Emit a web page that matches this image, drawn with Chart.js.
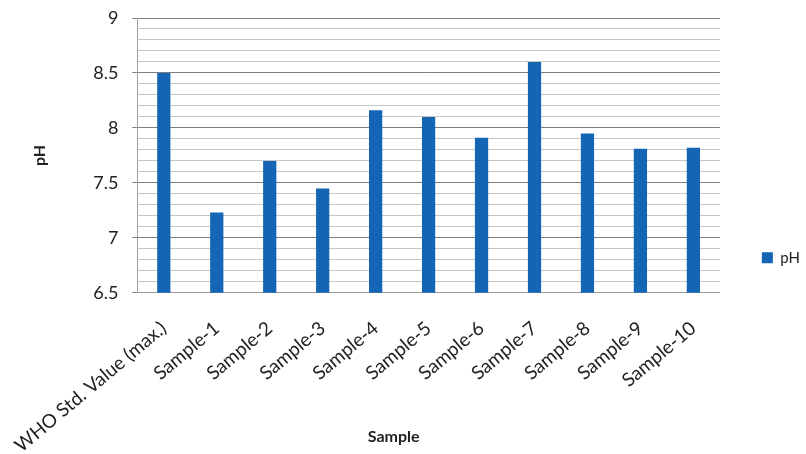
<!DOCTYPE html>
<html>
<head>
<meta charset="utf-8">
<script src="https://cdn.jsdelivr.net/npm/chart.js@4/dist/chart.umd.min.js"></script>
<style>
  html, body { margin: 0; padding: 0; background: #ffffff; }
  #wrap { width: 806px; height: 454px; position: relative; }
</style>
</head>
<body>
<div id="wrap"><canvas id="c" width="806" height="454"></canvas></div>
<script>
// Categories along the x axis
const categories = ['WHO Std. Value (max.)', 'Sample-1', 'Sample-2', 'Sample-3', 'Sample-4',
  'Sample-5', 'Sample-6', 'Sample-7', 'Sample-8', 'Sample-9', 'Sample-10'];
// Measured pH values
const phValues = [8.5, 7.23, 7.70, 7.45, 8.16, 8.10, 7.91, 8.60, 7.95, 7.81, 7.82];
// Value axis range and steps
const yMin = 6.5;
const yMax = 9;
const minorStep = 0.1;
const majorStep = 0.5;
const xTitle = 'Sample';
const yTitle = 'pH';

const isMajor = v => Math.abs(v / majorStep - Math.round(v / majorStep)) < 1e-6;

// Category axis title, set a little left of the plot's centre and below the slanted labels
const xAxisTitle = {
  id: 'xAxisTitle',
  afterDraw(chart) {
    const {ctx, chartArea} = chart;
    ctx.save();
    ctx.font = 'bold 16px Lato';
    ctx.fillStyle = '#222';
    ctx.textAlign = 'center';
    ctx.textBaseline = 'middle';
    ctx.fillText(xTitle, chartArea.left + (chartArea.right - chartArea.left) * 0.44, chart.height - 17);
    ctx.restore();
  }
};

new Chart(document.getElementById('c'), {
  type: 'bar',
  data: {
    labels: categories,
    datasets: [{
      label: 'pH',
      data: phValues,
      backgroundColor: '#1565b5',
      borderWidth: 0,
      barPercentage: 0.25,
      categoryPercentage: 1.0
    }]
  },
  plugins: [xAxisTitle],
  options: {
    responsive: false,
    animation: false,
    devicePixelRatio: 1,
    layout: { padding: { top: 18, right: -4, bottom: 0, left: 0 } },
    plugins: {
      tooltip: { enabled: false },
      legend: {
        position: 'right',
        title: { display: true, text: ' ', padding: { top: 29, bottom: 0 } },
        labels: {
          boxWidth: 11,
          boxHeight: 11,
          padding: 42,
          color: '#222',
          font: { family: 'Lato', size: 15 }
        }
      }
    },
    scales: {
      x: {
        grid: { display: false, tickLength: 27 },
        border: { display: true, color: '#9a9a9a', width: 1 },
        ticks: {
          autoSkip: false,
          minRotation: 40,
          maxRotation: 40,
          padding: -3,
          color: '#222',
          font: { family: 'Lato', size: 19 }
        }
      },
      y: {
        min: yMin,
        max: yMax,
        border: { display: true, color: '#a0a0a0', width: 1 },
        grid: {
          color: ctx => isMajor(ctx.tick.value) ? '#7e7e7e' : '#c6c6c6',
          tickColor: ctx => isMajor(ctx.tick.value) ? '#7e7e7e' : 'rgba(0,0,0,0)',
          tickLength: 16,
          tickBorderDash: [0, 11, 5, 40],
          lineWidth: 1
        },
        ticks: {
          stepSize: minorStep,
          autoSkip: false,
          padding: 3,
          color: '#222',
          font: { family: 'Lato', size: 18 },
          callback: v => isMajor(v) ? String(Math.round(v * 10) / 10) : ''
        },
        title: {
          display: true,
          text: yTitle,
          color: '#222',
          font: { family: 'Lato', size: 16, weight: 'bold' },
          padding: { top: 30, bottom: 41 }
        }
      }
    }
  }
});
</script>
</body>
</html>
